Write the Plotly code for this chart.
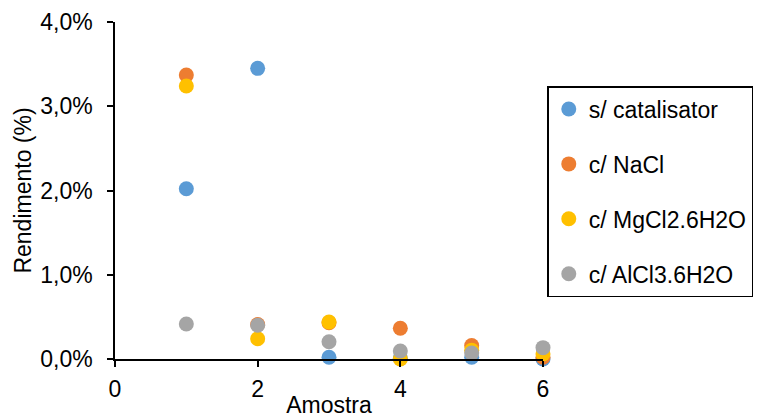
import plotly.graph_objects as go

amostra = [1, 2, 3, 4, 5, 6]
s_catalisator = [0.0202, 0.0345, 0.0002, 0.0001, 0.0002, 0.0000]
c_nacl = [0.0337, 0.0041, 0.0043, 0.00365, 0.0016, 0.0002]
c_mgcl2 = [0.0324, 0.0024, 0.0044, 0.0000, 0.00105, 0.0006]
c_alcl3 = [0.00415, 0.0040, 0.00205, 0.00095, 0.0007, 0.00135]

series = [
    ("s/ catalisator", s_catalisator, "#5B9BD5"),
    ("c/ NaCl", c_nacl, "#ED7D31"),
    ("c/ MgCl2.6H2O", c_mgcl2, "#FFC000"),
    ("c/ AlCl3.6H2O", c_alcl3, "#A5A5A5"),
]

FONT = "Liberation Sans, Arial, sans-serif"

fig = go.Figure()
for i, (name, vals, col) in enumerate(series):
    fig.add_trace(go.Scatter(
        x=amostra, y=vals, mode="markers", name=name,
        marker=dict(size=15, color=col, line=dict(width=0)),
        cliponaxis=False, legendgroup=f"g{i}",
    ))

fig.update_layout(
    width=759, height=418,
    margin=dict(l=115, r=216, t=22, b=59, autoexpand=False),
    paper_bgcolor="white", plot_bgcolor="white",
    font=dict(family=FONT, size=23, color="#000000"),
    separators=",.",
    showlegend=True,
    legend=dict(
        x=1.010, y=0.81, xanchor="left", yanchor="top",
        bordercolor="#000000", borderwidth=1.5,
        font=dict(family=FONT, size=23, color="#000000"),
        tracegroupgap=22, traceorder="grouped",
        itemwidth=30,
    ),
    xaxis=dict(
        range=[0, 6], tickvals=[0, 2, 4, 6],
        showgrid=False, zeroline=False,
        showline=True, linecolor="#000000", linewidth=1.5,
        ticks="outside", ticklen=6, tickwidth=1.5, tickcolor="#000000",
        tickfont=dict(family=FONT, size=23),
        ticklabelstandoff=3,
        title=dict(text="Amostra", font=dict(family=FONT, size=23), standoff=6),
        automargin=False,
    ),
    yaxis=dict(
        range=[0, 0.04], tickvals=[0, 0.01, 0.02, 0.03, 0.04],
        tickformat=".1%",
        showgrid=False, zeroline=False,
        showline=True, linecolor="#000000", linewidth=1.5,
        ticks="outside", ticklen=6, tickwidth=1.5, tickcolor="#000000",
        tickfont=dict(family=FONT, size=23),
        ticklabelstandoff=10,
        title=dict(text="Rendimento (%)", font=dict(family=FONT, size=23), standoff=2),
        automargin=False,
    ),
)

fig.write_html("out.html")
